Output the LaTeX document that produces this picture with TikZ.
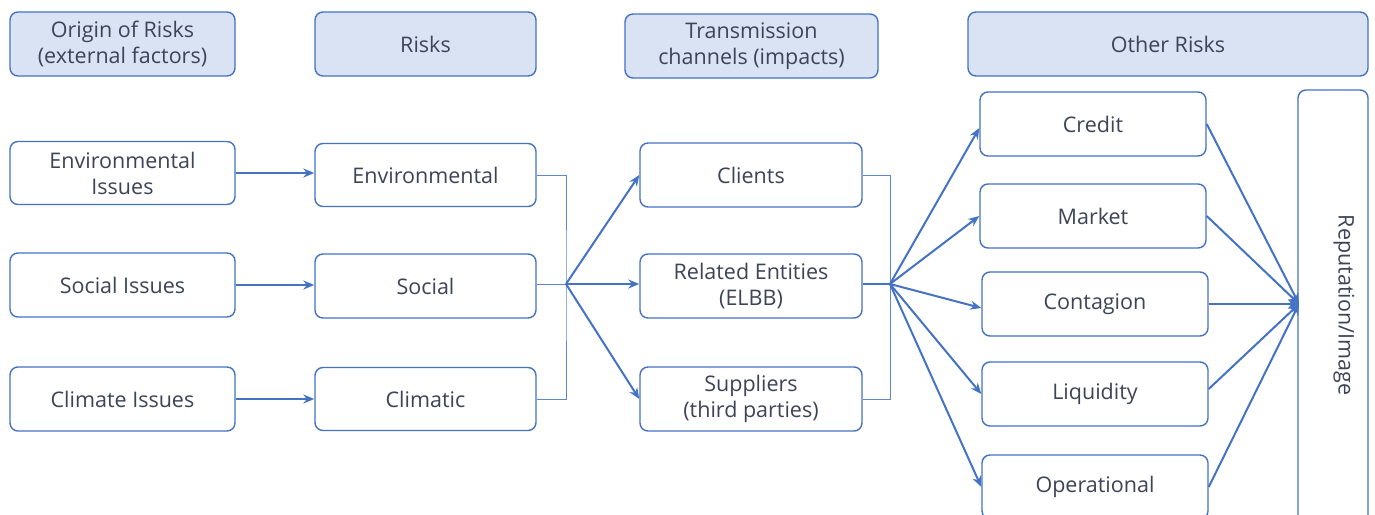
\documentclass[tikz,border=0pt]{standalone}
\usepackage{fontspec}
\setmainfont{Open Sans}
\usetikzlibrary{arrows.meta}
\definecolor{edge}{HTML}{4472C4}
\definecolor{headfill}{HTML}{DAE3F3}
\definecolor{ink}{HTML}{3E4458}
\tikzset{
  box/.style={draw=edge, line width=1.4pt, rounded corners=8pt, fill=white,
    text=ink, align=center, font=\fontsize{21.5}{26}\selectfont, inner sep=0pt},
  head/.style={box, fill=headfill},
  link/.style={draw=edge, line width=2pt, -{Stealth[length=11pt,width=9pt]}},
  bracket/.style={draw=edge!85, line width=1pt},
}
\begin{document}
\begin{tikzpicture}[x=1pt,y=-1pt]
\useasboundingbox (0,0) rectangle (1375,514);
\clip (0,0) rectangle (1375,514);

% column headers
\node[head, minimum width=225pt, minimum height=64pt] (h1) at (122.5,44) {Origin of Risks\\(external factors)};
\node[head, minimum width=221pt, minimum height=64pt] (h2) at (425.5,44) {Risks};
\node[head, minimum width=253pt, minimum height=64pt] (h3) at (751.5,46) {Transmission\\channels (impacts)};
\node[head, minimum width=400pt, minimum height=64pt] (h4) at (1168,44) {Other Risks};

% origins
\node[box, minimum width=225pt, minimum height=63pt] (o1) at (122.5,173) {Environmental\\Issues};
\node[box, minimum width=225pt, minimum height=64pt] (o2) at (122.5,285) {Social Issues};
\node[box, minimum width=225pt, minimum height=64pt] (o3) at (122.5,399) {Climate Issues};

% risks
\node[box, minimum width=221pt, minimum height=63pt] (r1) at (425.5,175) {Environmental};
\node[box, minimum width=221pt, minimum height=64pt] (r2) at (425.5,286) {Social};
\node[box, minimum width=221pt, minimum height=63pt] (r3) at (425.5,399) {Climatic};

% transmission channels
\node[box, minimum width=222pt, minimum height=64pt] (t1) at (751,175) {Clients};
\node[box, minimum width=222pt, minimum height=64pt] (t2) at (751,286) {Related Entities\\(ELBB)};
\node[box, minimum width=222pt, minimum height=64pt] (t3) at (751,399) {Suppliers\\(third parties)};

% other risks
\node[box, minimum width=226pt, minimum height=64pt] (k1) at (1093,124) {Credit};
\node[box, minimum width=226pt, minimum height=64pt] (k2) at (1093,216) {Market};
\node[box, minimum width=226pt, minimum height=64pt] (k3) at (1095,304) {Contagion};
\node[box, minimum width=226pt, minimum height=64pt] (k4) at (1095,394) {Liquidity};
\node[box, minimum width=226pt, minimum height=64pt] (k5) at (1095,487) {Operational};
\node[box, minimum width=70pt, minimum height=450pt] (rep) at (1333,315) {};
\node[text=ink, font=\fontsize{21.5}{24}\selectfont, rotate=-90] (replabel) at (1344,305) {Reputation/Image};

% origins to risks
\draw[link] (o1.east) -- (r1.west |- o1.east);
\draw[link] (o2.east) -- (r2.west |- o2.east);
\draw[link] (o3.east) -- (r3.west |- o3.east);

% risks gathered into one junction
\coordinate (j1) at (566,284);
\draw[bracket] (r1.east) -| (j1) |- (r3.east);
\draw[bracket] (r2.east |- j1) -- (j1);
\draw[link] (j1) -- (t1.west);
\draw[link] (j1) -- (t2.west |- j1);
\draw[link] (j1) -- (t3.west);

% channels gathered into one junction
\coordinate (j2) at (890,284);
\draw[bracket] (t1.east) -| (j2) |- (t3.east);
\draw[draw=edge, line width=2.8pt] (t2.east |- j2) -- (j2);
\draw[link] (j2) -- ([yshift=-4pt]k1.west);
\draw[link] (j2) -- (k2.west);
\draw[link] (j2) -- ([yshift=-4pt]k3.west);
\draw[link] (j2) -- (k4.west);
\draw[link] (j2) -- (k5.west);

% other risks into reputation
\coordinate (j3) at (1299,304);
\draw[link] (k1.east) -- (j3);
\draw[link] (k2.east) -- (j3);
\draw[link] (k3.east) -- (j3);
\draw[link] ([yshift=5pt]k4.east) -- (j3);
\draw[link] (k5.east) -- (j3);
\end{tikzpicture}
\end{document}
